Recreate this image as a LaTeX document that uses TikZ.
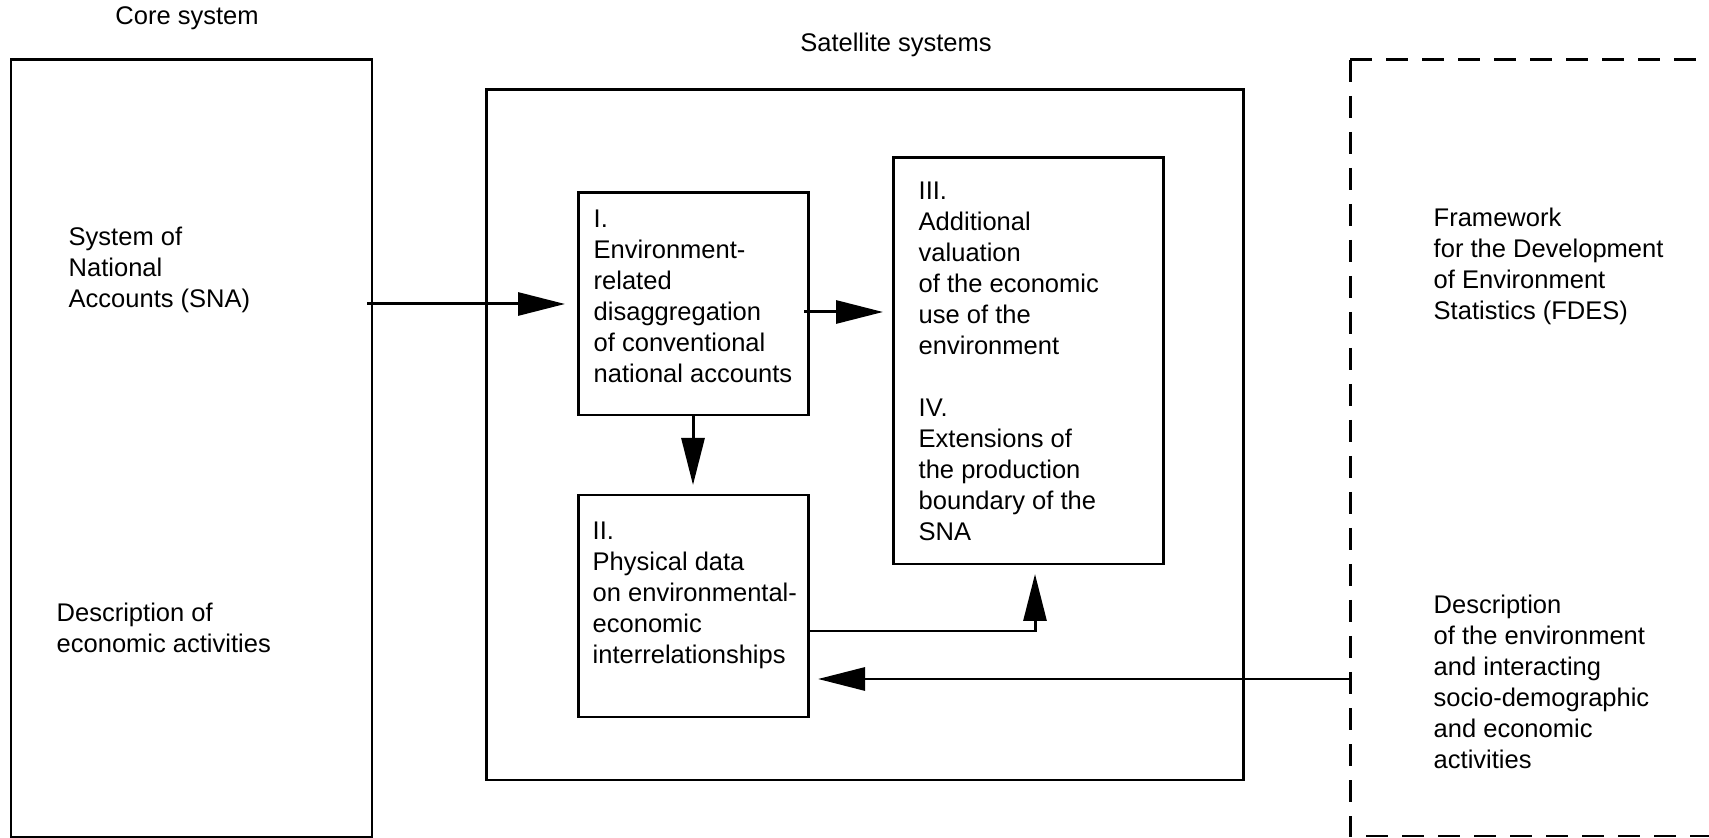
\documentclass[tikz,border=0pt]{standalone}
\usepackage{fontspec}
\setmainfont{Liberation Sans}
\usetikzlibrary{arrows.meta,calc}

\begin{document}
\begin{tikzpicture}
    % Define styles
    \tikzset{
        box/.style={rectangle, draw, line width=0.85pt, anchor=north west, inner sep=0pt, outer sep=0pt},
        txt/.style={anchor=west, align=left, inner sep=0pt, font=\fontsize{7.26}{8.82}\selectfont},
        frame/.style={line width=0.85pt, dash pattern=on 0.22cm off 0.14cm},
        arrow/.style={line width=0.85pt, -{Triangle[length=0.47cm, width=0.23cm]}, shorten >=0.1cm}
    }
    \useasboundingbox (0,0) rectangle (17.09,-8.38);

    % Boxes
    \node[box, minimum width=3.61cm, minimum height=7.77cm] (core) at (0.11,-0.60) {};
    \node[box, minimum width=7.57cm, minimum height=6.90cm] (sat) at (4.86,-0.90) {};
    \node[box, minimum width=2.30cm, minimum height=2.22cm] (boxI) at (5.78,-1.93) {};
    \node[box, minimum width=2.30cm, minimum height=2.22cm] (boxII) at (5.78,-4.95) {};
    \node[box, minimum width=2.70cm, minimum height=4.06cm] (boxIII) at (8.93,-1.58) {};

    % Dashed frame (open to the right)
    \draw[frame] (13.50,-0.60) -- (17.09,-0.60);
    \draw[frame] (13.50,-0.60) -- (13.50,-8.36) -- (17.09,-8.36);
    \coordinate (fdesedge) at (13.50,-6.79);

    % Titles
    \node[txt, anchor=center] (coretitle) at (1.87,-0.185) {Core system};
    \node[txt, anchor=center] (sattitle) at (8.96,-0.45) {Satellite systems};

    % Texts
    \node[txt] (sna) at (0.68,-2.70) {System of\\National\\Accounts (SNA)};
    \node[txt] (econ) at (0.56,-6.28) {Description of\\economic activities};
    \node[txt] (boxItxt) at (5.93,-2.96) {I.\\Environment-\\related\\disaggregation\\of conventional\\national accounts};
    \node[txt] (boxIItxt) at (5.92,-5.95) {II.\\Physical data\\on environmental-\\economic\\interrelationships};
    \node[txt] (boxIIItxt) at (9.18,-3.61) {III.\\Additional\\valuation\\of the economic\\use of the\\environment\\[8.82pt]IV.\\Extensions of\\the production\\boundary of the\\SNA};
    \node[txt] (fdes) at (14.33,-2.66) {Framework\\for the Development\\of Environment\\Statistics (FDES)};
    \node[txt] (envtxt) at (14.33,-6.82) {Description\\of the environment\\and interacting\\socio-demographic\\and economic\\activities};

    % Arrows
    \draw[arrow, shorten >=0.13cm, shorten <=-0.05cm] (core.east |- boxI.west) -- (boxI.west);
    \draw[arrow] (boxI.south) -- (boxII.north);
    \draw[arrow, shorten <=-0.04cm] ($(boxI.east)+(0,-0.08)$) -- ($(boxIII.west |- boxI.east)+(0,-0.08)$);
    \draw[arrow] ($(boxII.east)+(0,-0.25)$) -| ($(boxIII.south)+(0.07,0)$);
    \draw[arrow] (fdesedge) -- (boxII.east |- fdesedge);
\end{tikzpicture}
\end{document}
